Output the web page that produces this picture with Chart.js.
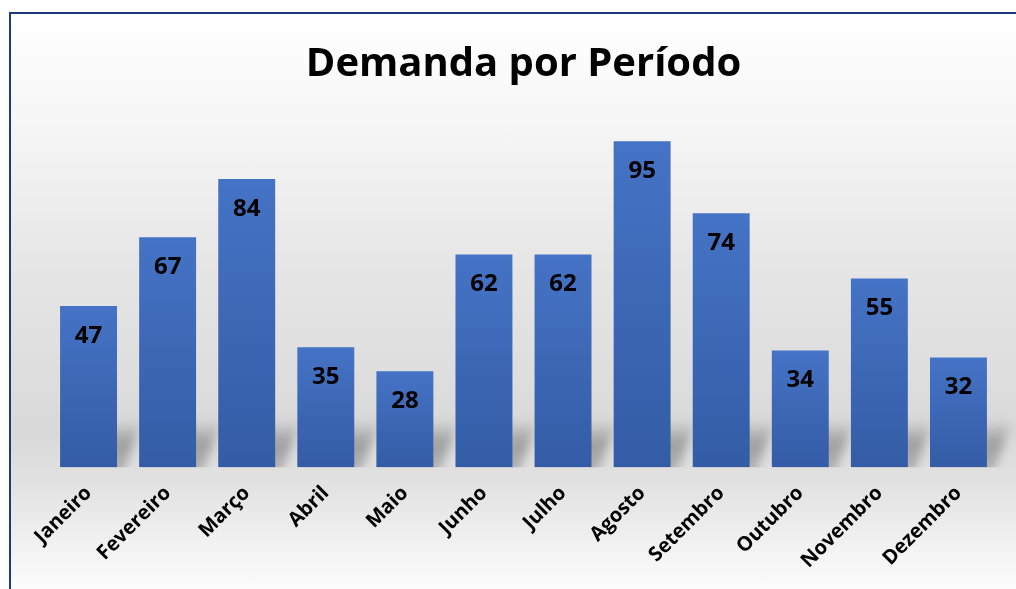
<!DOCTYPE html>
<html>
<head>
<meta charset="utf-8">
<script src="https://cdn.jsdelivr.net/npm/chart.js@4.4.1/dist/chart.umd.min.js"></script>
<style>
  html, body { margin: 0; padding: 0; width: 1016px; height: 589px; overflow: hidden; background: #ffffff; }
  #frame {
    position: absolute; left: 9px; top: 12px; width: 1020px; height: 600px;
    border-left: 2px solid #1f3a78; border-top: 2px solid #1f3a78;
    background: linear-gradient(to bottom, #ffffff 0px, #f6f6f6 110px, #e6e6e6 250px, #d9d9d9 420px, #e2e2e2 470px, #fdfdfd 577px);
  }
  #chart { position: absolute; left: 0; top: 0; }
</style>
</head>
<body>
<div id="frame"></div>
<canvas id="chart" width="1016" height="589"></canvas>
<script>
// ---- data ----
const months = ['Janeiro', 'Fevereiro', 'Março', 'Abril', 'Maio', 'Junho',
                'Julho', 'Agosto', 'Setembro', 'Outubro', 'Novembro', 'Dezembro'];
const demanda = [47, 67, 84, 35, 28, 62, 62, 95, 74, 34, 55, 32];

const COLORS = {
  barTop:    '#4573c5',
  barBottom: '#345ca6',
  text:      '#000000',
};

const FONT = "'Open Sans', 'DejaVu Sans', sans-serif";

// per-bar vertical gradient, computed from the y scale
function barFill(c) {
  const chart = c.chart;
  if (!chart.chartArea || !chart.scales.y) return COLORS.barTop;
  const y = chart.scales.y;
  const top = y.getPixelForValue(c.raw);
  const bottom = y.getPixelForValue(0);
  const g = chart.ctx.createLinearGradient(0, top, 0, bottom);
  g.addColorStop(0, COLORS.barTop);
  g.addColorStop(1, COLORS.barBottom);
  return g;
}

// soft slanted shadow behind the foot of each bar
const barShadow = {
  id: 'barShadow',
  beforeDatasetsDraw(chart) {
    const { ctx } = chart;
    const meta = chart.getDatasetMeta(0);
    meta.data.forEach(bar => {
      const { x, base, width } = bar.getProps(['x', 'base', 'width'], true);
      const h = 48, shift = 26;
      ctx.save();
      ctx.beginPath();
      ctx.rect(x - width / 2, base - h - 10, width + shift + 20, h + 10);
      ctx.clip();
      ctx.filter = 'blur(5px)';
      const g = ctx.createLinearGradient(0, base, 0, base - h);
      g.addColorStop(0, 'rgba(120,120,120,0.45)');
      g.addColorStop(0.5, 'rgba(120,120,120,0.6)');
      g.addColorStop(1, 'rgba(120,120,120,0)');
      ctx.fillStyle = g;
      ctx.beginPath();
      ctx.moveTo(x - width / 2, base + 6);
      ctx.lineTo(x + width / 2 + 6, base + 6);
      ctx.lineTo(x + width / 2 + shift, base - h);
      ctx.lineTo(x - width / 2 + shift, base - h);
      ctx.closePath();
      ctx.fill();
      ctx.restore();
    });
  }
};

// value labels inside the bars, near the top
const barValues = {
  id: 'barValues',
  afterDatasetsDraw(chart) {
    const { ctx } = chart;
    const meta = chart.getDatasetMeta(0);
    ctx.save();
    ctx.font = `bold 24px ${FONT}`;
    ctx.fillStyle = COLORS.text;
    ctx.textAlign = 'center';
    ctx.textBaseline = 'middle';
    meta.data.forEach((bar, i) => {
      const { x, y } = bar.getProps(['x', 'y'], true);
      ctx.fillText(String(demanda[i]), x, y + 30);
    });
    ctx.restore();
  }
};

new Chart(document.getElementById('chart'), {
  type: 'bar',
  data: {
    labels: months,
    datasets: [{
      label: 'Demanda',
      data: demanda,
      backgroundColor: barFill,
      borderWidth: 0,
      categoryPercentage: 1,
      barPercentage: 0.72,
    }]
  },
  options: {
    responsive: false,
    animation: false,
    layout: { padding: { left: 49, right: 18, top: 0, bottom: 10 } },
    plugins: {
      legend: { display: false },
      tooltip: { enabled: false },
      title: {
        display: true,
        text: 'Demanda por Período',
        color: COLORS.text,
        font: { family: FONT, size: 40, weight: 'bold' },
        padding: { top: 41, bottom: 35 },
      }
    },
    scales: {
      x: {
        grid: { display: false },
        border: { display: false },
        ticks: {
          color: COLORS.text,
          maxRotation: 45,
          minRotation: 45,
          autoSkip: false,
          padding: 6,
          font: { family: FONT, size: 20, weight: 'bold' },
        }
      },
      y: {
        display: false,
        min: 0,
        max: 100,
      }
    }
  },
  plugins: [barShadow, barValues]
});
</script>
</body>
</html>
